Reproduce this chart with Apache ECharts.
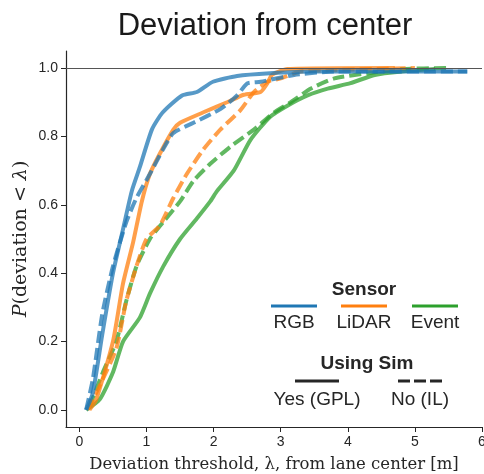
<!DOCTYPE html>
<html lang="en">
<head>
  <meta charset="UTF-8">
  <title>Deviation from center</title>
  <style>
    html, body { margin: 0; padding: 0; background: #fff; }
    #chart { width: 484px; height: 474px; }
  </style>
</head>
<body>
  <div id="chart"></div>
  <script src="https://cdn.jsdelivr.net/npm/echarts@6/dist/echarts.min.js"></script>
  <script>
    // CDF curves: [threshold, P]
    var rgbSim = [[0.1, 0], [0.2, 0.05], [0.34, 0.22], [0.5, 0.4], [0.64, 0.52], [0.78, 0.64], [0.9, 0.71], [1.08, 0.82],
      [1.24, 0.87], [1.53, 0.92], [1.75, 0.93], [1.99, 0.96], [2.35, 0.977], [2.84, 0.985], [3.5, 0.99], [5.78, 0.99]]
    var rgbIL = [[0.1, 0], [0.2, 0.09], [0.34, 0.28], [0.5, 0.42], [0.7, 0.55], [0.85, 0.62], [1.05, 0.69], [1.24, 0.76],
      [1.4, 0.81], [1.7, 0.84], [2.1, 0.88], [2.35, 0.92], [2.5, 0.955], [2.7, 0.96], [3.2, 0.98], [3.8, 0.99], [5.78, 0.99]]
    var lidarSim = [[0.15, 0], [0.25, 0.03], [0.5, 0.2], [0.65, 0.37], [0.8, 0.49], [0.93, 0.61], [1.05, 0.69], [1.2, 0.75],
      [1.4, 0.82], [1.5, 0.84], [1.84, 0.87], [2.2, 0.9], [2.45, 0.922], [2.7, 0.93], [2.8, 0.955], [2.87, 0.98], [3.1, 0.997], [4.7, 1.0]]
    var lidarIL = [[0.12, 0], [0.3, 0.07], [0.55, 0.18], [0.7, 0.32], [0.85, 0.42], [1.0, 0.5], [1.2, 0.54], [1.4, 0.62],
      [1.6, 0.69], [1.84, 0.76], [2.1, 0.82], [2.4, 0.877], [2.6, 0.93], [2.8, 0.96], [3.0, 0.97], [3.3, 0.99], [5.0, 1.0]]
    var eventSim = [[0.1, 0], [0.3, 0.03], [0.5, 0.11], [0.65, 0.2], [0.9, 0.27], [1.05, 0.34], [1.25, 0.42], [1.5, 0.5],
      [1.75, 0.56], [1.95, 0.61], [2.05, 0.64], [2.3, 0.7], [2.55, 0.79], [2.84, 0.857], [3.1, 0.89], [3.4, 0.92],
      [3.7, 0.94], [4.04, 0.956], [4.4, 0.98], [4.8, 0.99], [5.3, 0.997]]
    var eventIL = [[0.15, 0.01], [0.35, 0.11], [0.55, 0.2], [0.7, 0.32], [0.85, 0.42], [1.05, 0.5], [1.25, 0.55], [1.5, 0.61],
      [1.7, 0.67], [1.95, 0.72], [2.25, 0.77], [2.6, 0.82], [2.9, 0.87], [3.15, 0.9], [3.45, 0.94], [3.8, 0.97],
      [4.3, 0.985], [4.8, 0.997], [5.5, 1.0]]

    var xTicks = [0, 1, 2, 3, 4, 5, 6]
    var yTicks = [0, 0.2, 0.4, 0.6, 0.8, 1.0]
    var sensorNames = ['RGB', 'LiDAR', 'Event']
    var simNames = ['Yes (GPL)', 'No (IL)']

    var blue = '#1f77b4', orange = '#ff7f0e', green = '#2ca02c'
    var ink = '#262626'
    var sansFont = '"Liberation Sans", Arial, sans-serif'
    var serifFont = '"DejaVu Serif", "Liberation Serif", serif'

    function curve(data, color, dashed) {
      return {
        type: 'line',
        data: data,
        showSymbol: false,
        smooth: 0.2,
        lineStyle: {
          color: color,
          width: 4,
          opacity: 0.75,
          type: dashed ? [12, 5] : 'solid'
        },
        animation: false
      }
    }

    function txt(x, y, s, font, extra) {
      var st = { text: s, font: font, fill: ink, align: 'center', verticalAlign: 'middle' }
      if (extra) Object.assign(st, extra)
      return { type: 'text', x: x, y: y, style: st, z: 10 }
    }

    // title, y label and the two-block legend as graphics
    var graphics = []
    graphics.push(txt(265, 26, 'Deviation from center', '31px ' + sansFont, { fill: '#1a1a1a' }))
    graphics.push({
      type: 'text', x: 21, y: 239, rotation: Math.PI / 2, z: 10,
      style: {
        text: '{i|P}(deviation < {i|λ})', fill: ink, align: 'center', verticalAlign: 'middle',
        font: '19px ' + serifFont,
        rich: { i: { fontFamily: serifFont, fontSize: 19, fontStyle: 'italic', fill: ink } }
      }
    })

    var sensorColors = [blue, orange, green]
    var sensorX = [294, 364, 435]
    graphics.push(txt(364, 290, 'Sensor', 'bold 19px ' + sansFont))
    sensorNames.forEach(function (n, i) {
      graphics.push({ type: 'line', z: 10, shape: { x1: sensorX[i] - 23, y1: 306, x2: sensorX[i] + 23, y2: 306 }, style: { stroke: sensorColors[i], lineWidth: 3 } })
      graphics.push(txt(sensorX[i], 323, n, '19px ' + sansFont))
    })
    graphics.push(txt(367, 364, 'Using Sim', 'bold 19px ' + sansFont))
    var simX = [317, 420]
    simNames.forEach(function (n, i) {
      graphics.push({ type: 'line', z: 10, shape: { x1: simX[i] - 22, y1: 381, x2: simX[i] + 22, y2: 381 }, style: { stroke: ink, lineWidth: 3, lineDash: i ? [12, 4] : null } })
      graphics.push(txt(simX[i], 400, n, '19px ' + sansFont))
    })

    var series = [
      curve(eventSim, green, false),
      curve(eventIL, green, true),
      curve(lidarSim, orange, false),
      curve(lidarIL, orange, true),
      curve(rgbSim, blue, false),
      curve(rgbIL, blue, true)
    ]
    series[0].markLine = {
      silent: true,
      symbol: 'none',
      label: { show: false },
      lineStyle: { color: '#555', width: 1.2, type: 'solid' },
      data: [{ yAxis: 1.0 }],
      animation: false
    }

    var myChart = echarts.init(document.getElementById('chart'))
    myChart.setOption({
      backgroundColor: '#fff',
      grid: { left: 66, right: 2, top: 51, bottom: 47, outerBoundsMode: 'none', containLabel: false },
      xAxis: {
        type: 'value',
        min: -0.2,
        max: 6,
        splitLine: { show: false },
        axisLine: { onZero: false, lineStyle: { color: ink, width: 1.2 } },
        axisTick: { customValues: xTicks, length: 5, lineStyle: { color: ink } },
        axisLabel: { customValues: xTicks, fontFamily: sansFont, fontSize: 14, color: ink, margin: 8, hideOverlap: false },
        name: 'Deviation threshold, λ, from lane center [m]',
        nameLocation: 'middle',
        nameGap: 29,
        nameTextStyle: { fontFamily: serifFont, fontSize: 16.5, color: ink }
      },
      yAxis: {
        type: 'value',
        min: -0.05,
        max: 1.05,
        splitLine: { show: false },
        axisLine: { show: true, onZero: false, lineStyle: { color: ink, width: 1.2 } },
        axisTick: { show: true, customValues: yTicks, length: 5, lineStyle: { color: ink } },
        axisLabel: {
          customValues: yTicks, fontFamily: sansFont, fontSize: 14, color: ink, margin: 8,
          formatter: function (v) { return v.toFixed(1) }
        }
      },
      graphic: graphics,
      series: series
    })
  </script>
</body>
</html>
